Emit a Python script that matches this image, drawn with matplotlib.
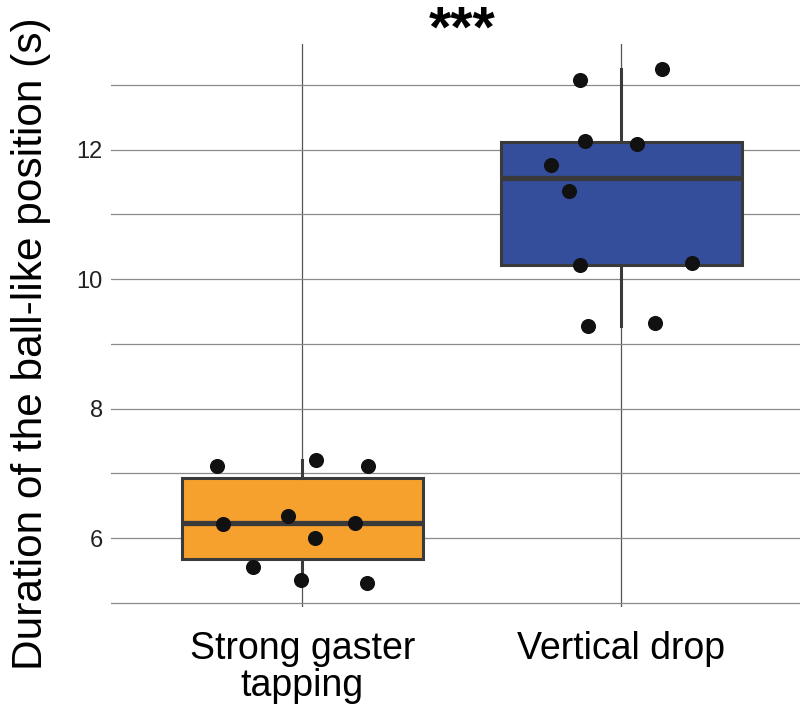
import numpy as np
import matplotlib
matplotlib.use("Agg")
import matplotlib.pyplot as plt

plt.rcParams['font.family'] = ['Liberation Sans', 'DejaVu Sans']

# Categories and colours
groups = ["Strong gaster\ntapping", "Vertical drop"]
box_colors = ["#F6A12E", "#344E9C"]

# Values (s)
tapping = [7.12, 7.21, 7.12, 6.22, 6.34, 5.995, 6.23, 5.56, 5.345, 5.31]
drop = [13.085, 13.25, 12.14, 12.09, 11.76, 11.37, 10.217, 10.25, 9.28, 9.33]

# Horizontal jitter of each dot (category units)
tapping_jitter = [-0.268, 0.043, 0.207, -0.250, -0.046, 0.039, 0.166, -0.155, -0.004, 0.204]
drop_jitter = [-0.130, 0.126, -0.115, 0.050, -0.221, -0.164, -0.129, 0.220, -0.104, 0.104]

data = [tapping, drop]
jitter = [tapping_jitter, drop_jitter]

fig = plt.figure(figsize=(8.01, 7.05), dpi=100)
ax = fig.add_axes([0.1386, 0.1386, 0.8602, 0.7986])

edge = "#3a3a3a"
bp = ax.boxplot(data, positions=[0, 1], widths=0.753, patch_artist=True,
                showcaps=False, showfliers=False, whis=1.5, zorder=2,
                boxprops=dict(edgecolor=edge, linewidth=2.2),
                whiskerprops=dict(color=edge, linewidth=2.2),
                medianprops=dict(color=edge, linewidth=3.8, solid_capstyle='butt'))
for patch, c in zip(bp['boxes'], box_colors):
    patch.set_facecolor(c)

for i, (vals, jit) in enumerate(zip(data, jitter)):
    xs = np.array(jit) + i
    ax.scatter(xs, vals, s=118, color="#111111", zorder=3, linewidths=0)

ax.set_xlim(-0.60, 1.56)
ax.set_ylim(4.93, 13.63)

ax.set_xticks([0, 1])
ax.set_xticklabels(groups, fontsize=27, linespacing=1.05)
ax.set_yticks([6, 8, 10, 12])
ax.set_yticks([5, 7, 9, 11, 13], minor=True)
ax.tick_params(axis='y', which='both', length=0, pad=6, labelsize=17, labelcolor="#222222")
ax.tick_params(axis='x', length=0, pad=17)

ax.grid(True, which='both', axis='y', color="#8a8a8a", linewidth=0.9, zorder=0)
ax.grid(True, which='major', axis='x', color="#555555", linewidth=0.9, zorder=0)
ax.set_axisbelow(True)
for s in ax.spines.values():
    s.set_visible(False)

# y label placed by hand
fig.text(31 / 801, 1 - 344 / 705, "Duration of the ball-like position (s)", rotation=90,
         ha='center', va='center', fontsize=30.5)

# significance stars
fig.text(461.7 / 801, 1 - 47 / 705, "***", ha='center', va='baseline',
         fontsize=41, fontweight='bold')

fig.savefig("out.png", dpi=100)
